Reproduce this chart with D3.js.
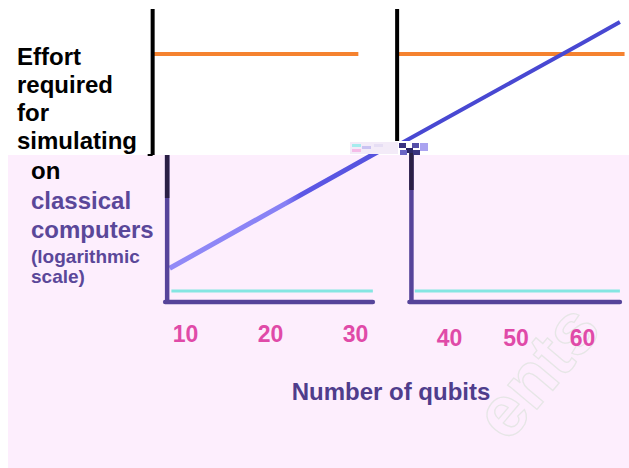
<!DOCTYPE html>
<html>
<head>
<meta charset="utf-8">
<script src="https://cdn.jsdelivr.net/npm/d3@7"></script>
<style>
  body { margin: 0; background: #fff; }
  svg text { font-family: "Liberation Sans", Arial, sans-serif; }
</style>
</head>
<body>
<svg id="chart"></svg>
<script>
// qubit ticks on each half of the broken x axis
const leftTicks = [10, 20, 30];
const rightTicks = [40, 50, 60];

// effort on classical computers (log scale)
const classicalQubits = [8.2, 20, 30, 40, 50, 60, 65.7];
const classicalEffort = [2.8e2, 1.55e6, 2.3e9, 3.4e12, 5e15, 7.4e18, 4.8e20];

// flat lines: best supercomputer (orange) and quantum computer (cyan)
const supercomputerEffort = 8.5e17;
const quantumEffort = 8.5;

const titleLines = ['Effort', 'required', 'for', 'simulating'];
const subLines = ['on', 'classical', 'computers', '(logarithmic', 'scale)'];

class QubitChart {

  constructor(_config) {
    this.config = {
      parentElement: _config.parentElement,
      containerWidth: 629,
      containerHeight: 468
    };
    this.initVis();
  }

  initVis() {
    let vis = this;

    vis.svg = d3.select(vis.config.parentElement)
        .attr('width', vis.config.containerWidth)
        .attr('height', vis.config.containerHeight);

    // the lower half sits on a pink slide background
    vis.svg.append('rect')
        .attr('x', 8).attr('y', 155)
        .attr('width', 621).attr('height', 313)
        .attr('fill', '#fdeefd');

    // faint watermark, drawn first so everything sits on top of it
    vis.svg.append('text')
        .attr('transform', 'translate(508,444) rotate(-50)')
        .attr('font-size', 72)
        .attr('font-weight', 'bold')
        .attr('fill', 'none')
        .attr('stroke', '#e6e6e6')
        .attr('stroke-width', 1.3)
        .text('ents');

    // scales - the upper and lower halves come from two slides, so they get their own
    vis.xLeftTop = d3.scaleLinear().domain([10, 30]).range([170.5, 340.5]);
    vis.xLeftBottom = d3.scaleLinear().domain([10, 30]).range([185, 355]);
    vis.xRight = d3.scaleLinear().domain([40, 60]).range([449, 582]);
    vis.yTop = d3.scaleLog().domain([1, 1e21]).range([262.4, 18.4]);
    vis.yBottom = d3.scaleLog().domain([1, 1e12]).range([305, 125]);

    vis.panels = [
      {id: 'tl', x: vis.xLeftTop, y: vis.yTop, ext: [7.9, 32.1], top: 9, bottom: 155, axis: '#000', flat: supercomputerEffort, flatColor: '#f5822f', flatStart: 0, clip: [140, 0, 240, 155]},
      {id: 'tr', x: vis.xRight, y: vis.yTop, ext: [32.2, 66.4], top: 9, bottom: 141, axis: '#000', flat: supercomputerEffort, flatColor: '#f5822f', flatStart: 0, clip: [396, 0, 240, 141], lineColor: '#4848d2', lineWidth: 4},
      {id: 'bl', x: vis.xLeftBottom, y: vis.yBottom, ext: [7.9, 32.1], top: 155, bottom: 302, axis: '#56449a', dark: 198, flat: quantumEffort, flatColor: '#84e6e2', flatStart: 0.5, clip: [160, 152, 240, 160], lineColor: 'url(#blueFade)', lineWidth: 5, baseAxis: true},
      {id: 'br', x: vis.xRight, y: vis.yBottom, ext: [34.35, 65.7], top: 153, bottom: 302, axis: '#56449a', dark: 190, flat: quantumEffort, flatColor: '#84e6e2', flatStart: 0.5, clip: [400, 152, 240, 160], baseAxis: true}
    ];

    let defs = vis.svg.append('defs');
    let grad = defs.append('linearGradient')
        .attr('id', 'blueFade')
        .attr('gradientUnits', 'userSpaceOnUse')
        .attr('x1', 170).attr('y1', 0).attr('x2', 380).attr('y2', 0);
    grad.append('stop').attr('offset', '0%').attr('stop-color', '#928af7');
    grad.append('stop').attr('offset', '55%').attr('stop-color', '#8780f5');
    grad.append('stop').attr('offset', '62%').attr('stop-color', '#5d57e6');
    grad.append('stop').attr('offset', '100%').attr('stop-color', '#5552dd');

    vis.panels.forEach(p => {
      defs.append('clipPath').attr('id', 'clip-' + p.id)
        .append('rect')
          .attr('x', p.clip[0]).attr('y', p.clip[1])
          .attr('width', p.clip[2]).attr('height', p.clip[3]);
    });

    vis.renderVis();
  }

  renderVis() {
    let vis = this;

    vis.panels.forEach(p => {
      let g = vis.svg.append('g').attr('class', 'panel-' + p.id);
      let x0 = p.x(p.ext[0]);

      // flat reference line
      let flatLine = d3.line().x(d => p.x(d)).y(() => p.y(p.flat));
      g.append('path')
          .datum([p.ext[0] + p.flatStart, p.ext[1]])
          .attr('d', flatLine)
          .attr('fill', 'none')
          .attr('stroke', p.flatColor)
          .attr('stroke-width', p.id[0] === 't' ? 4 : 3);

      // classical effort line
      if (p.lineColor) {
        let pts = classicalQubits.map((q, i) => ({q: q, e: classicalEffort[i]}));
        g.append('path')
            .datum(pts)
            .attr('clip-path', `url(#clip-${p.id})`)
            .attr('d', d3.line().x(d => p.x(d.q)).y(d => p.y(d.e)))
            .attr('fill', 'none')
            .attr('stroke', p.lineColor)
            .attr('stroke-width', p.lineWidth);
      }

      // vertical axis
      g.append('line')
          .attr('x1', x0).attr('x2', x0)
          .attr('y1', p.top).attr('y2', p.bottom)
          .attr('stroke', p.axis)
          .attr('stroke-width', p.id[0] === 't' ? 4 : 4.5);
      if (p.dark) {
        g.append('line')
            .attr('x1', x0).attr('x2', x0)
            .attr('y1', p.top).attr('y2', p.dark)
            .attr('stroke', '#2a1f45')
            .attr('stroke-width', 4.5);
      }
      if (p.baseAxis) {
        g.append('line')
            .attr('x1', x0 - 2).attr('x2', p.x(p.ext[1]))
            .attr('y1', p.bottom).attr('y2', p.bottom)
            .attr('stroke', p.axis)
            .attr('stroke-width', 4.5)
            .attr('stroke-linecap', 'round');
      }
    });

    // little foot on the upper left axis
    vis.svg.append('path')
        .attr('d', `M${vis.xLeftTop(7.9) - 5},155H${vis.xLeftTop(7.9)}`)
        .attr('stroke', '#000').attr('stroke-width', 2);

    // scrambled strip where the two slides meet
    let strip = vis.svg.append('g').attr('class', 'seam');
    strip.append('rect').attr('x', 350).attr('y', 142).attr('width', 48).attr('height', 12).attr('fill', '#f3ebf8');
    [[352, 144, '#a6ecee'], [352, 149, '#f5bce8'], [362, 146, '#c9c2f2'], [374, 144, '#e6def4']].forEach(([x, y, c]) => {
      strip.append('rect').attr('x', x).attr('y', y).attr('width', 9).attr('height', 3).attr('fill', c);
    });
    [[399, 143, '#3a3380'], [406, 148, '#2b2566'], [412, 143, '#5650a8'], [400, 150, '#6a63c4'], [413, 150, '#3a3380']].forEach(([x, y, c]) => {
      strip.append('rect').attr('x', x).attr('y', y).attr('width', 7).attr('height', 5).attr('fill', c);
    });
    strip.append('rect').attr('x', 420).attr('y', 143).attr('width', 8).attr('height', 8).attr('fill', '#aaa3f0');

    // tick labels
    let axisLeft = d3.axisBottom(vis.xLeftBottom).tickValues(leftTicks).tickSize(0).tickPadding(0);
    let axisRight = d3.axisBottom(vis.xRight).tickValues(rightTicks).tickSize(0).tickPadding(0);
    [[axisLeft, 342], [axisRight, 346]].forEach(([ax, yy]) => {
      let ag = vis.svg.append('g').attr('transform', `translate(0,${yy})`).call(ax);
      ag.select('.domain').remove();
      ag.selectAll('text')
          .attr('dy', 0).attr('y', 0)
          .attr('fill', '#e04aa8')
          .attr('font-size', 23)
          .attr('font-weight', 'bold')
          .style('font-family', '"Liberation Sans", Arial, sans-serif');
    });

    // axis title
    vis.svg.append('text')
        .attr('x', 391).attr('y', 400)
        .attr('text-anchor', 'middle')
        .attr('fill', '#4f3d8c')
        .attr('font-size', 24)
        .attr('font-weight', 'bold')
        .text('Number of qubits');

    // y title, upper slide
    vis.svg.selectAll('.title-line')
      .data(titleLines)
      .join('text')
        .attr('class', 'title-line')
        .attr('x', 17)
        .attr('y', (d, i) => 65 + i * 28)
        .attr('fill', '#000')
        .attr('font-size', 24)
        .attr('font-weight', 'bold')
        .text(d => d);

    // y title, lower slide
    const subY = [179, 209, 238, 263, 283];
    vis.svg.selectAll('.sub-line')
      .data(subLines)
      .join('text')
        .attr('class', 'sub-line')
        .attr('x', 31)
        .attr('y', (d, i) => subY[i])
        .attr('fill', (d, i) => i === 0 ? '#000' : '#5a4799')
        .attr('font-size', (d, i) => i < 3 ? 24 : 19)
        .attr('font-weight', 'bold')
        .text(d => d);
  }
}

new QubitChart({parentElement: '#chart'});
</script>
</body>
</html>
